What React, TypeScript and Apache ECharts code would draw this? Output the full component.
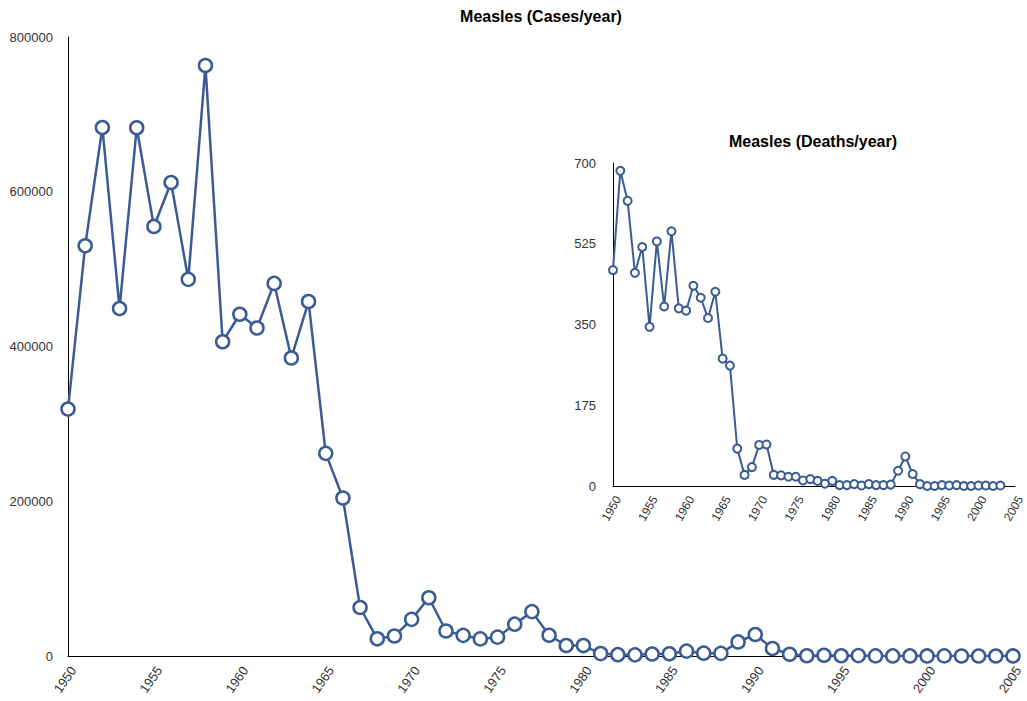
import React, { useEffect, useRef } from "react";
import * as echarts from "echarts";

const caseYears = [
  1950, 1951, 1952, 1953, 1954, 1955, 1956, 1957, 1958, 1959,
  1960, 1961, 1962, 1963, 1964, 1965, 1966, 1967, 1968, 1969,
  1970, 1971, 1972, 1973, 1974, 1975, 1976, 1977, 1978, 1979,
  1980, 1981, 1982, 1983, 1984, 1985, 1986, 1987, 1988, 1989,
  1990, 1991, 1992, 1993, 1994, 1995, 1996, 1997, 1998, 1999,
  2000, 2001, 2002, 2003, 2004, 2005,
];
const cases = [
  319124, 530118, 683077, 449146, 682720, 555156, 611936, 486799, 763094, 406162,
  441703, 423919, 481530, 385156, 458083, 261904, 204136, 62705, 22231, 25826,
  47351, 75290, 32275, 26690, 22094, 24374, 41126, 57345, 26871, 13597,
  13506, 3124, 1714, 1497, 2587, 2822, 6282, 3655, 3396, 18193,
  27786, 9643, 2237, 312, 963, 309, 508, 138, 100, 100,
  86, 116, 44, 56, 37, 66,
];
const deathYears = [
  1950, 1951, 1952, 1953, 1954, 1955, 1956, 1957, 1958, 1959,
  1960, 1961, 1962, 1963, 1964, 1965, 1966, 1967, 1968, 1969,
  1970, 1971, 1972, 1973, 1974, 1975, 1976, 1977, 1978, 1979,
  1980, 1981, 1982, 1983, 1984, 1985, 1986, 1987, 1988, 1989,
  1990, 1991, 1992, 1993, 1994, 1995, 1996, 1997, 1998, 1999,
  2000, 2001, 2002, 2003,
];
const deaths = [
  468, 683, 618, 462, 518, 345, 530, 389, 552, 385,
  380, 434, 408, 364, 421, 276, 261, 81, 24, 41,
  89, 90, 24, 23, 20, 20, 12, 15, 11, 5,
  11, 2, 2, 4, 1, 4, 2, 2, 3, 33,
  64, 26, 4, 0, 0, 2, 1, 2, 0, 0,
  1, 1, 0, 1,
];
const mainTitle = "Measles (Cases/year)";
const insetTitle = "Measles (Deaths/year)";

const FONT = "'Liberation Sans', Arial, Helvetica, sans-serif";
const LINE = "#3b5b93";

export default function App() {
  const ref = useRef<HTMLDivElement>(null);
  useEffect(() => {
    if (!ref.current) return;
    const chart = echarts.init(ref.current, undefined, { renderer: "svg" });
    const axisLine = { show: true, lineStyle: { color: "#000", width: 1 } };
    const plain = (v: number) => String(v);
    const xLabelMain = {
      rotate: 55,
      fontFamily: FONT,
      fontSize: 13,
      color: "#333",
      margin: 8,
      verticalAlign: "top" as const,
      formatter: plain,
    };
    const xLabelInset = { ...xLabelMain, rotate: 60, fontSize: 12, margin: 8 };
    const yLabel = { fontFamily: FONT, fontSize: 13, color: "#333", formatter: plain };
    chart.setOption({
      animation: false,
      backgroundColor: "#fff",
      grid: [
        { left: 68, top: 37, width: 945, height: 619 },
        { left: 613, top: 163, width: 402, height: 323 },
      ],
      xAxis: [
        {
          type: "value", gridIndex: 0, min: 1950, max: 2005, interval: 5,
          axisLine, axisTick: { show: false }, splitLine: { show: false },
          axisLabel: xLabelMain,
        },
        {
          type: "value", gridIndex: 1, min: 1950, max: 2005, interval: 5,
          axisLine, axisTick: { show: false }, splitLine: { show: false },
          axisLabel: xLabelInset,
        },
      ],
      yAxis: [
        {
          type: "value", gridIndex: 0, min: 0, max: 800000, interval: 200000,
          axisLine, axisTick: { show: false }, splitLine: { show: false },
          axisLabel: { ...yLabel, margin: 15 },
        },
        {
          type: "value", gridIndex: 1, min: 0, max: 700, interval: 175,
          axisLine, axisTick: { show: false }, splitLine: { show: false },
          axisLabel: { ...yLabel, margin: 17 },
        },
      ],
      series: [
        {
          type: "line", xAxisIndex: 0, yAxisIndex: 0,
          data: caseYears.map((y, i) => [y, cases[i]]),
          symbol: "circle", symbolSize: 13, showAllSymbol: true,
          lineStyle: { color: LINE, width: 2.5 },
          itemStyle: { color: "#fff", borderColor: LINE, borderWidth: 2.5 },
          z: 3,
        },
        {
          type: "line", xAxisIndex: 1, yAxisIndex: 1,
          data: deathYears.map((y, i) => [y, deaths[i]]),
          symbol: "circle", symbolSize: 8, showAllSymbol: true,
          lineStyle: { color: LINE, width: 2 },
          itemStyle: { color: "#fff", borderColor: LINE, borderWidth: 2 },
          z: 4,
        },
      ],
      graphic: [
        {
          type: "text", x: 541, y: 16,
          style: {
            text: mainTitle, fill: "#000", align: "center", verticalAlign: "middle",
            font: `bold 16px ${FONT}`,
          },
        },
        {
          type: "text", x: 813, y: 141,
          style: {
            text: insetTitle, fill: "#000", align: "center", verticalAlign: "middle",
            font: `bold 16px ${FONT}`,
          },
        },
      ],
    });
    return () => chart.dispose();
  }, []);
  return (
    <div
      ref={ref}
      style={{ position: "absolute", left: 0, top: 0, width: 1027, height: 701 }}
    />
  );
}
